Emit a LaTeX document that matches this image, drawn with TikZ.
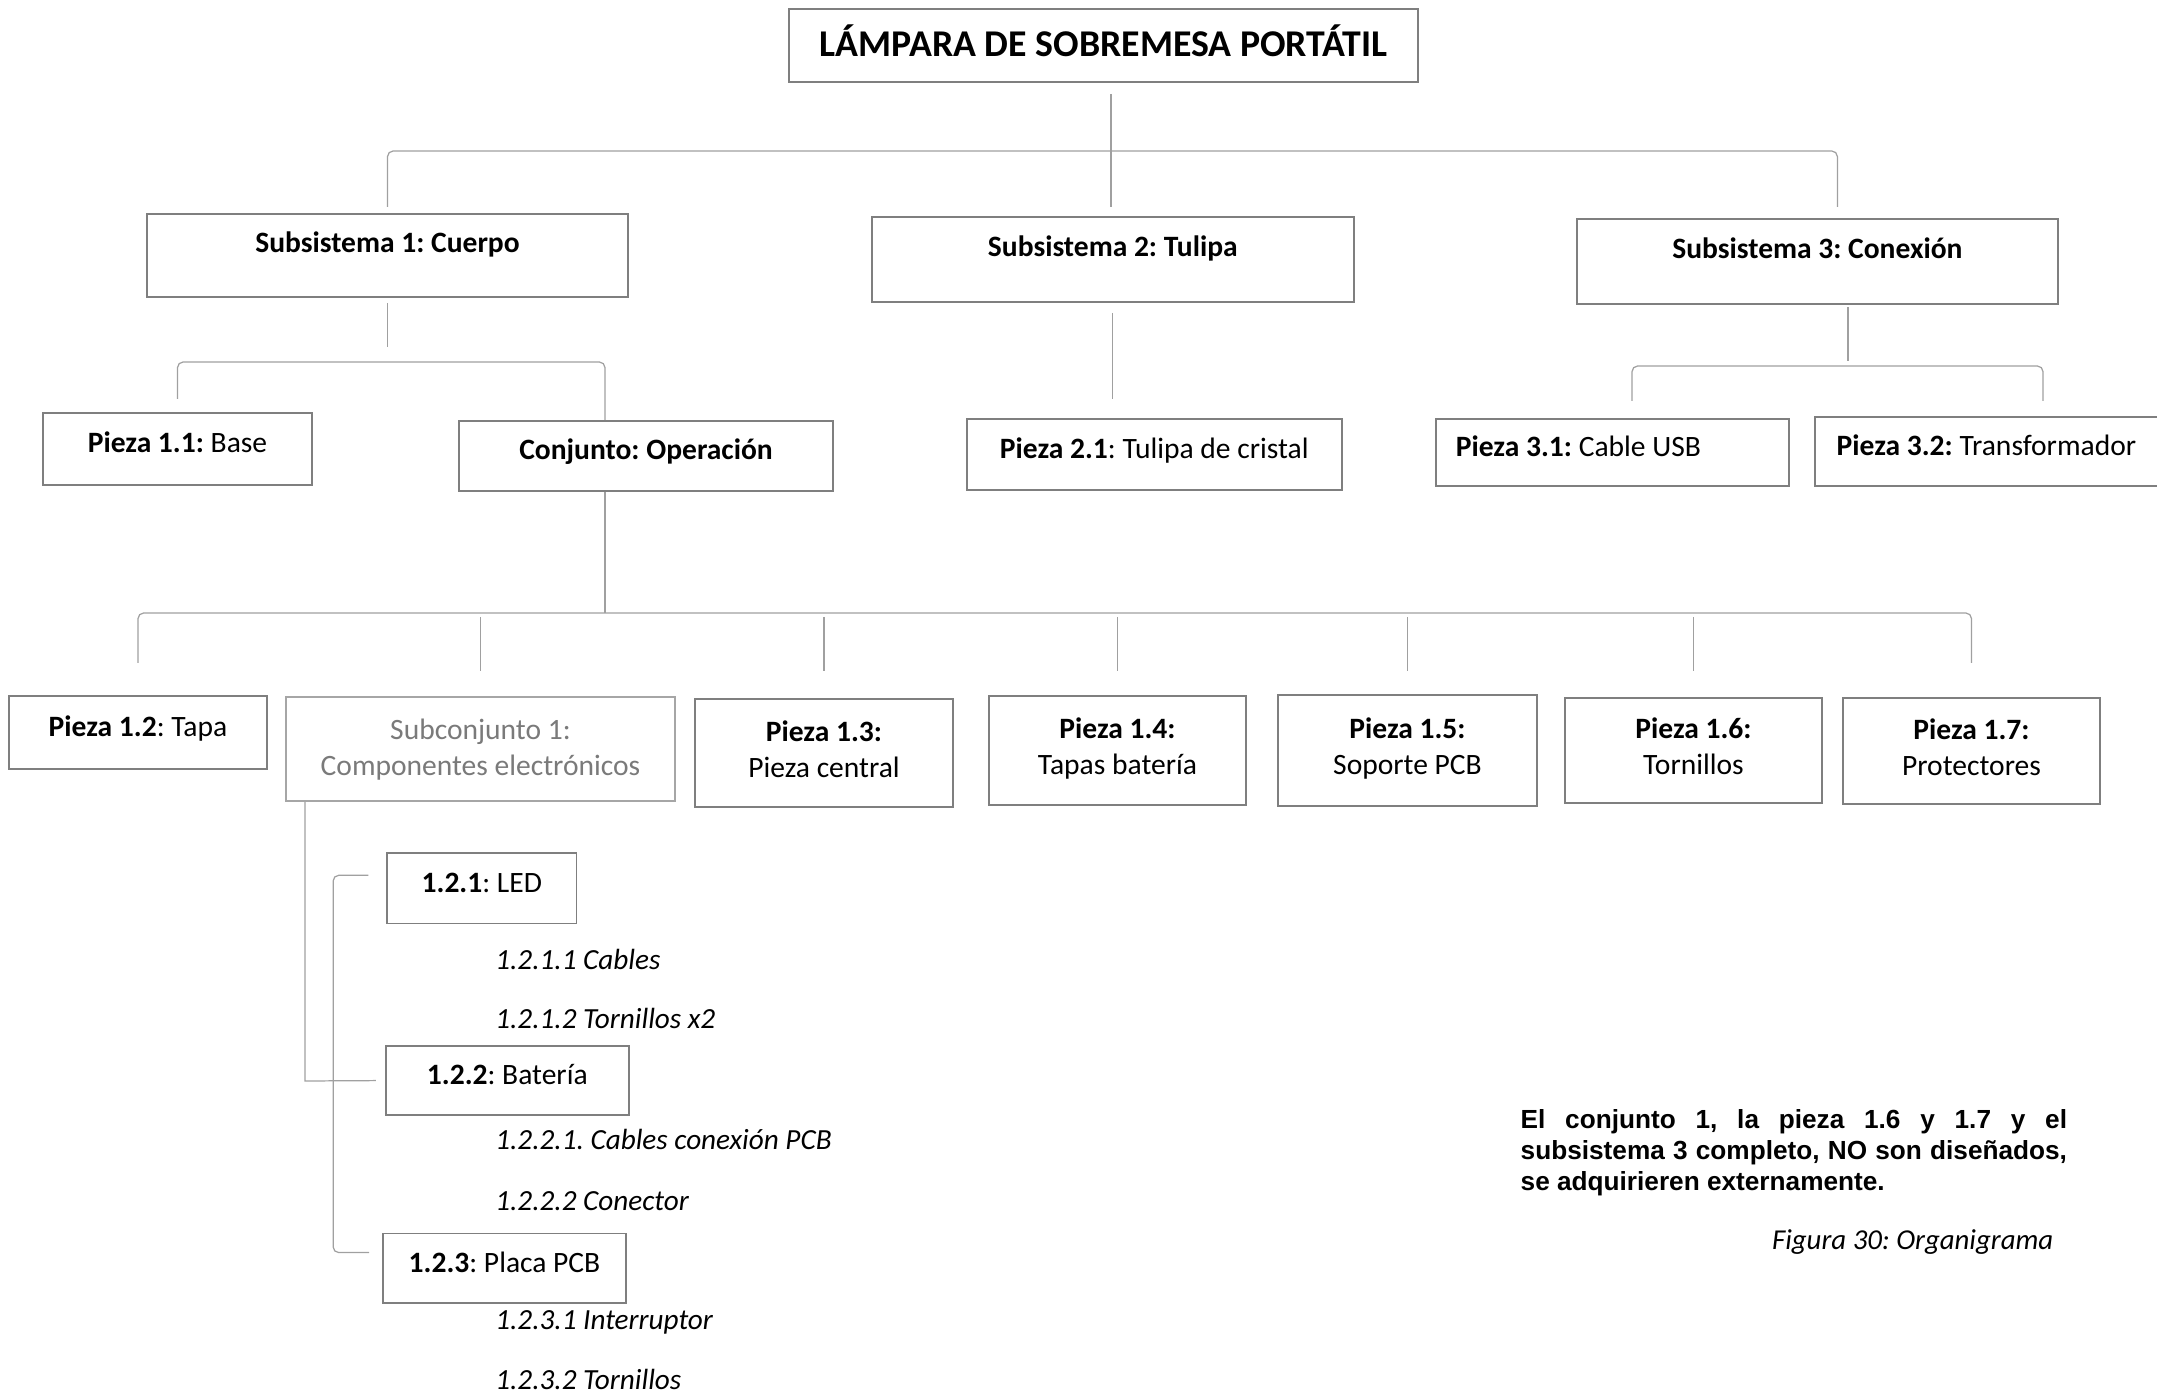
\documentclass[tikz,border=0pt]{standalone}
\usepackage{fontspec}
\setmainfont{Carlito}
\newfontfamily\notefont{Liberation Sans}
\frenchspacing

\definecolor{boxgray}{HTML}{7F7F7F}
\definecolor{linegray}{HTML}{A0A0A0}
\definecolor{subgray}{HTML}{A6A6A6}
\definecolor{subtext}{HTML}{7A7A7A}

\newcommand{\fbody}{\fontsize{8.4}{10.2}\selectfont}
\newcommand{\fitem}{\fontsize{8.3}{10.2}\selectfont}
\newcommand{\ftitle}{\fontsize{10.75}{12}\selectfont}
\newcommand{\twol}[2]{\begin{tabular}[b]{@{}c@{}}#1\\#2\end{tabular}}

\begin{document}
\begin{tikzpicture}[x=0.01cm, y=-0.01cm,
  box/.style={draw=boxgray, line width=0.6pt, inner sep=0pt, font=\fbody, align=center},
  one/.style={text height=6pt, text depth=3.8pt},
  high/.style={text height=6pt, text depth=7.8pt},
  two/.style={text height=15pt, text depth=1.2pt},
  lvl4/.style={line width=0.45pt},
  conn/.style={draw=linegray, line width=0.35pt},
  item/.style={anchor=base west, inner sep=0pt, font=\fitem\itshape}]
\useasboundingbox (0,0) rectangle (2157,1395);

% title and subsystems
\node[box, font=\ftitle\bfseries, text height=8pt, text depth=1.8pt, minimum width=6.29cm, minimum height=0.73cm] (top) at (1103.5,45.5) {LÁMPARA DE SOBREMESA PORTÁTIL};
\node[box, high, minimum width=4.81cm, minimum height=0.83cm] (s1) at (387.5,255.5) {\textbf{Subsistema 1: Cuerpo}};
\node[box, high, minimum width=4.82cm, minimum height=0.85cm] (s2) at (1112.8,259.5) {\textbf{Subsistema 2: Tulipa}};
\node[box, high, minimum width=4.80cm, minimum height=0.85cm] (s3) at (1817.4,261.5) {\textbf{Subsistema 3: Conexión}};

% second level
\node[box, one, minimum width=2.69cm, minimum height=0.72cm] (p11) at (177.5,449) {\textbf{Pieza 1.1:} Base};
\node[box, one, minimum width=3.74cm, minimum height=0.70cm] (cj) at (646,456) {\textbf{Conjunto: Operación}};
\node[box, one, minimum width=3.75cm, minimum height=0.71cm] (p21) at (1154.3,454.5) {\textbf{Pieza 2.1}: Tulipa de cristal};
\node[box, one, text width=3.13cm, inner xsep=0.2cm, align=flush left, minimum height=0.67cm] (p31) at (1612.5,452.5) {\textbf{Pieza 3.1:} Cable USB};
\node[box, one, text width=3.11cm, inner xsep=0.22cm, align=flush left, minimum height=0.69cm] (p32) at (1992.3,451.5) {\textbf{Pieza 3.2:} Transformador};

% third level
\node[box, one, minimum width=2.58cm, minimum height=0.73cm] (p12) at (138,732.5) {\textbf{Pieza 1.2}: Tapa};
\node[box, text height=16pt, text depth=1.2pt, draw=subgray, text=subtext, line width=0.45pt, minimum width=3.89cm, minimum height=1.04cm] (sc) at (480.5,749) {\twol{Subconjunto 1:}{Componentes electrónicos}};
\foreach \nm/\xx/\yy/\ww/\hh/\lab in {p13/824/753/2.58/1.08/{\twol{\textbf{Pieza 1.3:}}{Pieza central}},
    p14/1117.5/750.5/2.57/1.09/{\twol{\textbf{Pieza 1.4:}}{Tapas batería}},
    p15/1407.5/750.5/2.59/1.11/{\twol{\textbf{Pieza 1.5:}}{Soporte PCB}},
    p16/1693.5/750.5/2.57/1.05/{\twol{\textbf{Pieza 1.6:}}{Tornillos}},
    p17/1971.5/751/2.57/1.06/{\twol{\textbf{Pieza 1.7:}}{Protectores}}}
  \node[box, two, minimum width=\ww cm, minimum height=\hh cm] (\nm) at (\xx,\yy) {\lab};

% electronic components
\node[box, lvl4, one, minimum width=1.89cm, minimum height=0.705cm] (l1) at (481.8,888.3) {\textbf{1.2.1}: LED};
\node[box, lvl4, one, minimum width=2.43cm, minimum height=0.69cm] (l2) at (507.3,1080.6) {\textbf{1.2.2}: Batería};
\node[box, lvl4, one, minimum width=2.43cm, minimum height=0.69cm] (l3) at (504.5,1268.2) {\textbf{1.2.3}: Placa PCB};
\foreach \nm/\yy/\lab in {i1/970/1.2.1.1 Cables, i2/1029/1.2.1.2 Tornillos x2,
    i3/1150/1.2.2.1. Cables conexión PCB, i4/1211/1.2.2.2 Conector,
    i5/1330/1.2.3.1 Interruptor, i6/1389/1.2.3.2 Tornillos}
  \node[item] (\nm) at (494.6,\yy) {\lab};

% connectors
\coordinate (t0) at (1111,151);
\draw[conn] (t0 |- 0,94) -- (t0 |- 0,207);
\draw[conn, rounded corners=1.6pt] (s1.north |- 0,207) |- (t0) -| ([xshift=0.2cm]s3.north |- 0,207);
\draw[conn] (s1.south |- 0,303) -- (s1.south |- 0,347);
\draw[conn, rounded corners=1.6pt] (p11.north |- 0,399) |- (605,362) -- (cj.north -| 605,0);
\draw[conn] (s2.south |- 0,313) -- (s2.south |- 0,399);
\draw[conn] (1848,307) -- (1848,361);
\draw[conn, rounded corners=1.6pt] (1632,401) |- (2043,366) -- (2043,401);
\draw[conn] (cj.south -| 605,0) -- (605,613);
\draw[conn, rounded corners=1.6pt] (p12.north |- 0,663) |- (p17.north |- 0,613) -- (p17.north |- 0,663);
\foreach \nm in {sc,p13,p14,p15,p16}
  \draw[conn] (\nm.north |- 0,617) -- (\nm.north |- 0,671);
\draw[conn] (sc.south -| 305,0) -- (305,1081) -- ([xshift=-0.09cm]l2.west);
\draw[conn, rounded corners=1.6pt] ([shift={(-18,-13)}]l1.west) -| ([shift={(-49,-15.6)}]l3.west) -- ([shift={(-13,-15.6)}]l3.west);

% note and caption
\node[anchor=north west, inner sep=0pt, text width=5.46cm, align=justify, font=\notefont\bfseries\fontsize{7.45}{8.8}\selectfont] (nota) at (1520,1109) {El conjunto 1, la pieza 1.6 y 1.7 y el\linebreak subsistema 3 completo, NO son diseñados,\linebreak se adquirieren externamente.};
\node[anchor=base east, inner sep=0pt, font=\fontsize{8.2}{9}\selectfont\itshape] (fig) at (2054,1250) {Figura 30: Organigrama};
\end{tikzpicture}
\end{document}
